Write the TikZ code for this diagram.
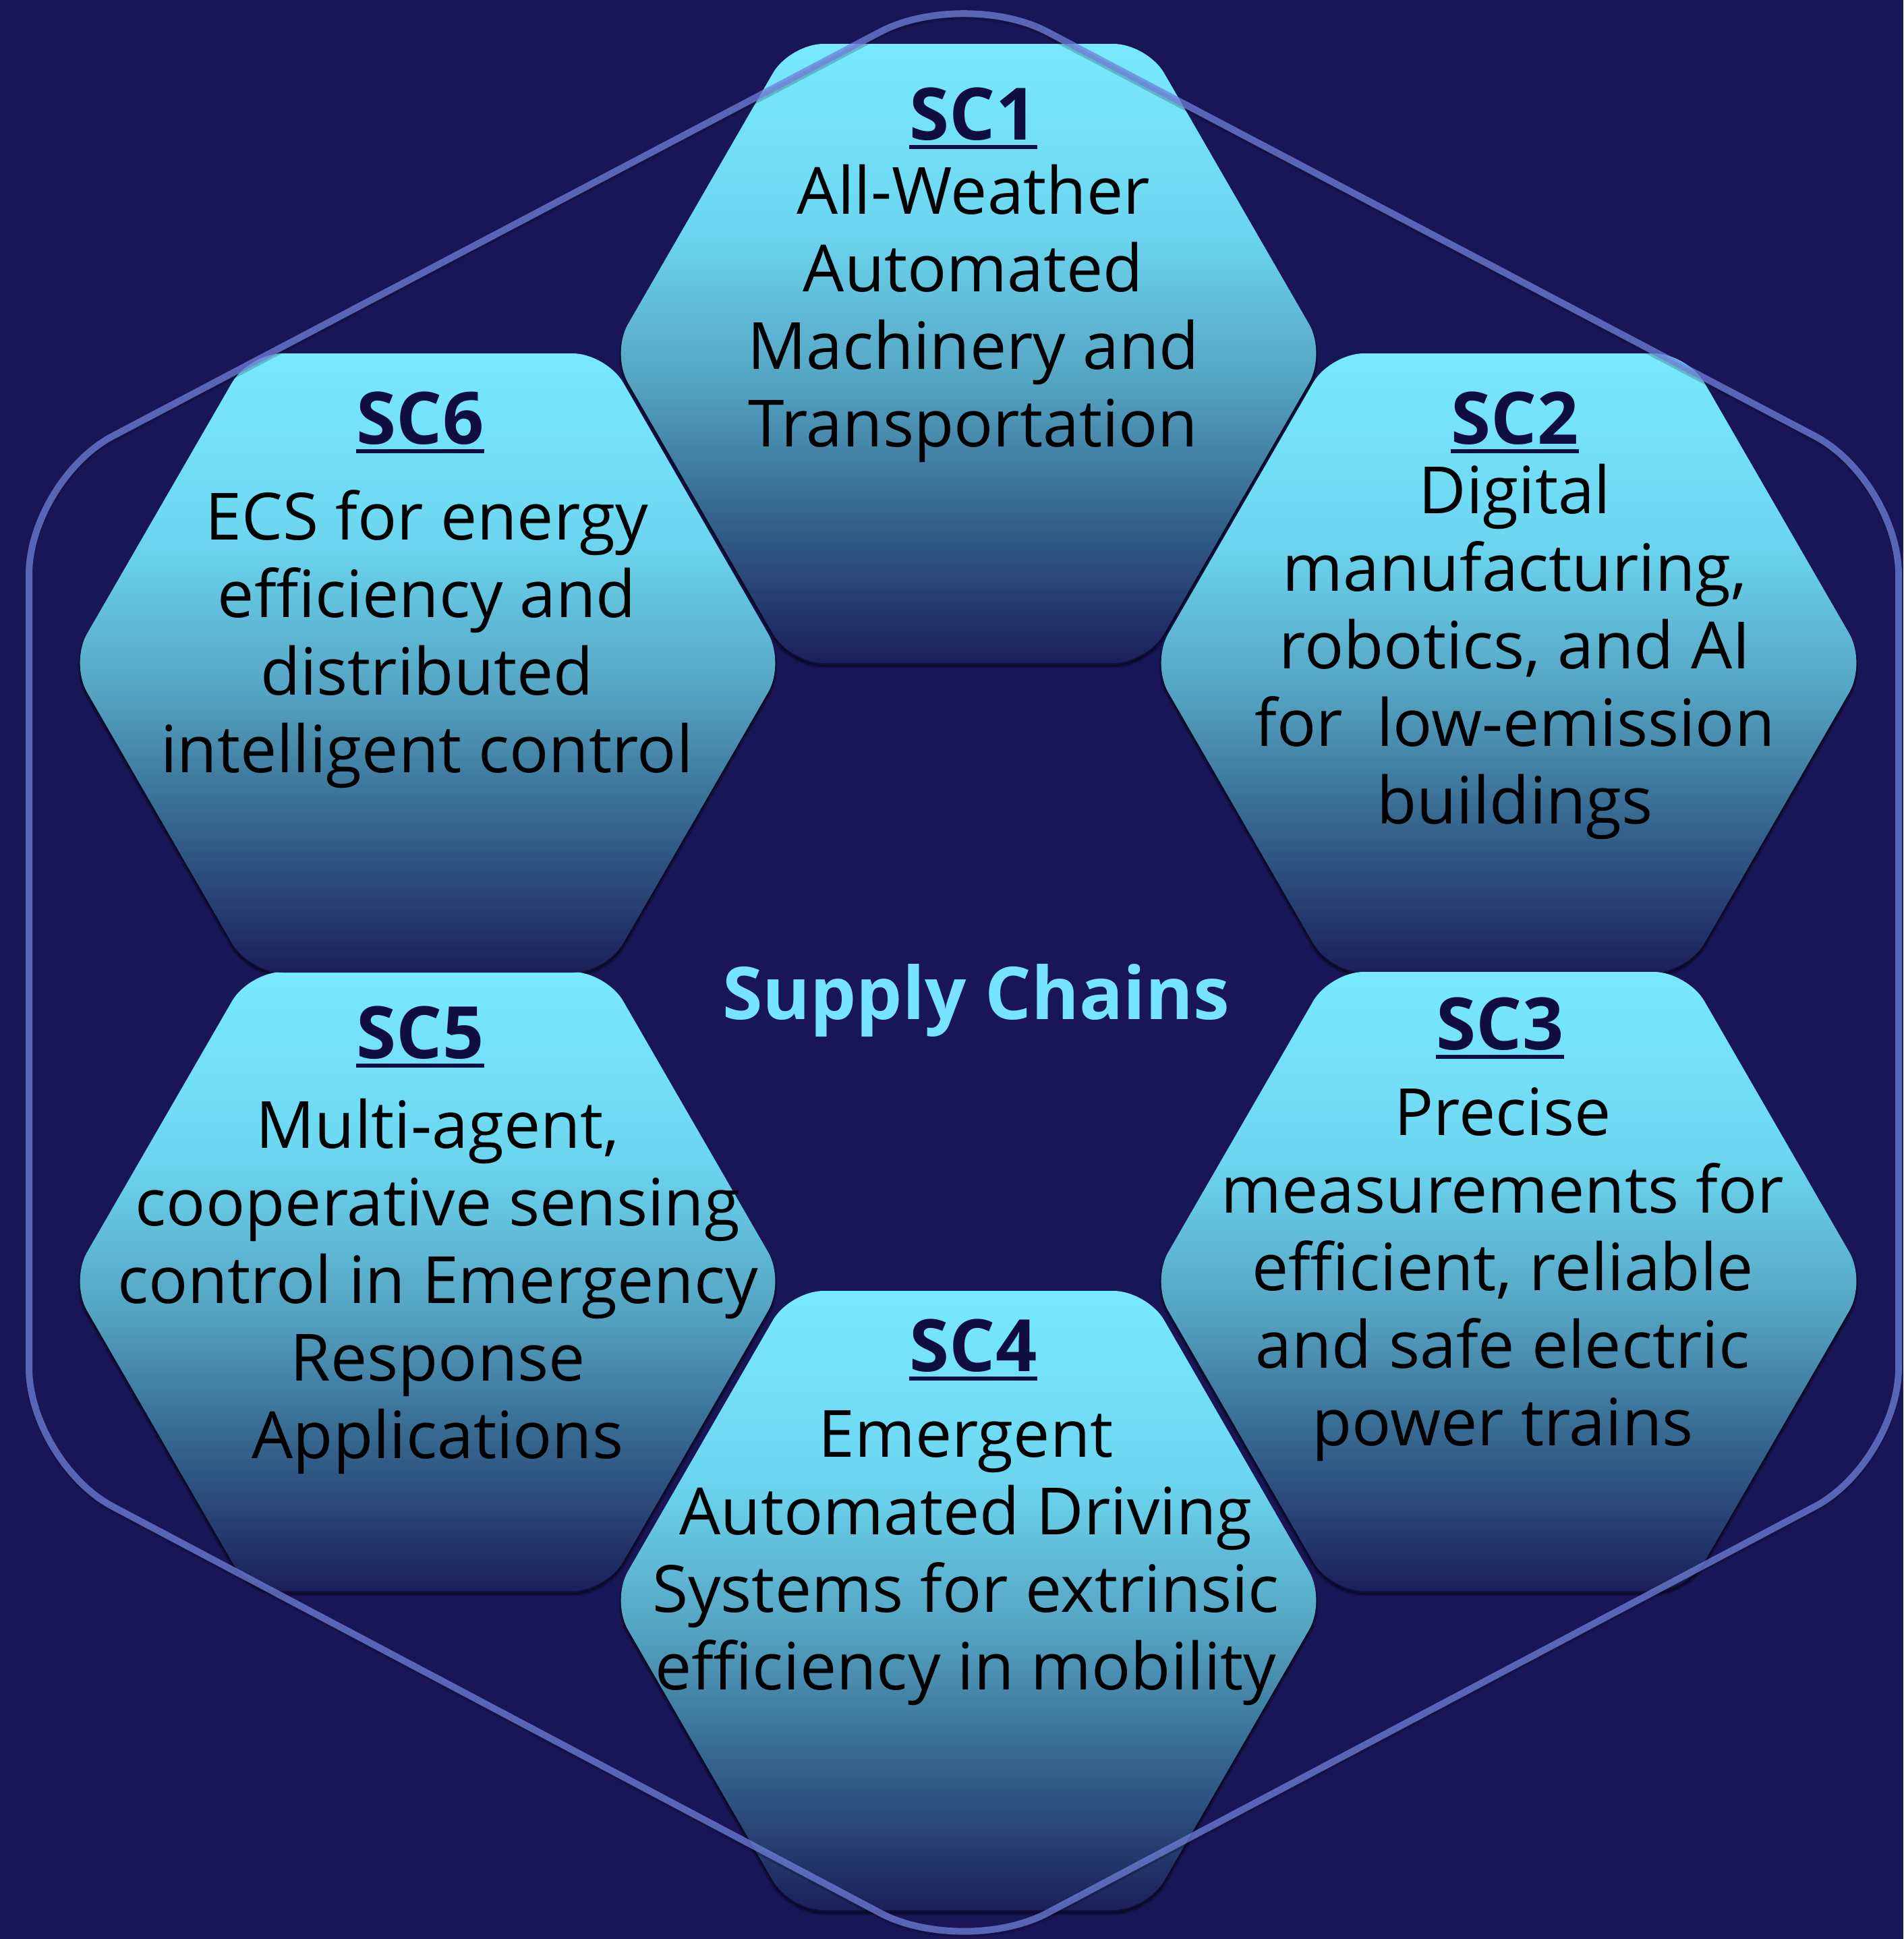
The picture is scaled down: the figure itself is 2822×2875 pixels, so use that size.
\documentclass[tikz,border=0pt]{standalone}
\usepackage{fontspec}
\setmainfont{Open Sans}
\definecolor{bgnavy}{RGB}{25,22,88}
\definecolor{hextop}{RGB}{120,233,255}
\definecolor{hexhigh}{RGB}{108,214,240}
\definecolor{hexmid}{RGB}{84,163,194}
\definecolor{hexlow}{RGB}{54,104,144}
\definecolor{hexbot}{RGB}{27,31,90}
\definecolor{headnavy}{RGB}{16,13,66}
\definecolor{ringblue}{RGB}{112,128,218}
\definecolor{titlecyan}{RGB}{118,228,255}
\pgfdeclareverticalshading{hexshade}{100bp}{color(0bp)=(hexbot); color(25bp)=(hexbot); color(37.5bp)=(hexlow); color(47.5bp)=(hexmid); color(60bp)=(hexhigh); color(75bp)=(hextop); color(100bp)=(hextop)}
\tikzset{
  hexcell/.style={shading=hexshade, rounded corners=5mm},
  hexshadow/.style={fill=black, draw=black, line width=0.5mm, opacity=0.3, rounded corners=5mm},
  sctitle/.style={font=\fontsize{30.5}{36}\selectfont\bfseries, text=headnavy, inner sep=0pt, anchor=base},
  sctext/.style={font=\fontsize{27.5}{32.7}\selectfont, align=center, inner sep=0pt, anchor=base},
  scline/.style={headnavy, line width=0.6mm},
  maintitle/.style={font=\fontsize{30.7}{36}\selectfont\bfseries, text=titlecyan, inner sep=0pt, anchor=base},
  ring/.style={draw=ringblue, draw opacity=0.75, line width=1mm, rounded corners=14mm},
  ringshadow/.style={draw=black, draw opacity=0.2, line width=1mm, rounded corners=14mm},
}
\begin{document}
\begin{tikzpicture}[x=0.1mm,y=-0.1mm]
  \fill[bgnavy] (0,0) rectangle (2822,2875);
  \useasboundingbox (0,0) rectangle (2822,2875);
  % the six cells
  \foreach \cx/\cy in {1436/524, 2237/983, 2237/1900, 1436/2373, 634/1900, 634/983}
    \path[hexshadow] (\cx,\cy) ++(-530,5) -- ++(265,-459) -- ++(530,0) -- ++(265,459) -- ++(-265,459) -- ++(-530,0) -- cycle;
  \foreach \cx/\cy in {1436/524, 2237/983, 2237/1900, 1436/2373, 634/1900, 634/983}
    \shade[hexcell] (\cx,\cy) ++(-530,0) -- ++(265,-459) -- ++(530,0) -- ++(265,459) -- ++(-265,459) -- ++(-530,0) -- cycle;

  % texts sit on the baseline of their last line
  \node[sctitle] (sc1head) at (1443,207) {SC1};
  \node[sctext] (sc1) at (1443,662) {All-Weather\\Automated\\Machinery and\\Transportation};
  \node[sctitle] (sc2head) at (2246,658) {SC2};
  \node[sctext] (sc2) at (2246,1221) {Digital\\manufacturing,\\robotics, and AI\\for\ \ low-emission\\buildings};
  \node[sctitle] (sc3head) at (2224,1556) {SC3};
  \node[sctext] (sc3) at (2228,2143) {Precise\\measurements for\\efficient, reliable\\and safe electric\\power trains};
  \node[sctitle] (sc4head) at (1443,2033) {SC4};
  \node[sctext] (sc4) at (1432,2505) {Emergent\\Automated Driving\\Systems for extrinsic\\efficiency in mobility};
  \node[sctitle] (sc5head) at (623,1569) {SC5};
  \node[sctext] (sc5) at (649,2162) {Multi-agent,\\cooperative sensing\\control in Emergency\\Response\\Applications};
  \node[sctitle] (sc6head) at (623,658) {SC6};
  \node[sctext] (sc6) at (633,1145) {ECS for energy\\efficiency and\\distributed\\intelligent control};
  \foreach \n in {1,...,6}
    \draw[scline] ([yshift=-1.1mm]sc\n head.base west) -- ([yshift=-1.1mm]sc\n head.base east);

  \node[maintitle] (title) at (1447,1511) {Supply Chains};

  % outer ring
  \draw[ringshadow] (1429,-14) -- (2815,716) -- (2815,2172) -- (1429,2906) -- (43,2172) -- (43,716) -- cycle;
  \draw[ring] (1429,-18) -- (2815,712) -- (2815,2168) -- (1429,2902) -- (43,2168) -- (43,712) -- cycle;
\end{tikzpicture}
\end{document}
